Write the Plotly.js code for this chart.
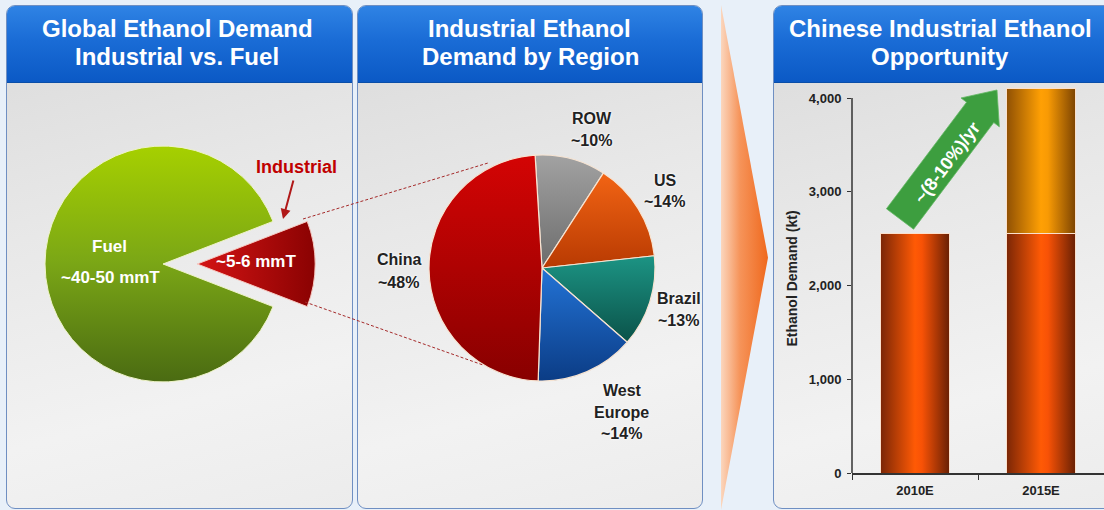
<!DOCTYPE html>
<html>
<head>
<meta charset="utf-8">
<script src="https://cdn.plot.ly/plotly-3.0.1.min.js"></script>
<style>
html,body{margin:0;padding:0;background:#e8f0f9;}
#wrap{position:relative;width:1104px;height:510px;overflow:hidden;background:#e8f0f9;}
.panel{position:absolute;top:5px;height:504px;border:1.5px solid #6f8fc2;border-radius:9px;
  background:linear-gradient(165deg,#dadada 0%,#e8e8e8 40%,#f2f2f2 75%,#ececec 100%);overflow:hidden;box-sizing:border-box;}
.head{position:absolute;left:0;top:0;right:0;height:76px;
  background:linear-gradient(to bottom,#2f83e4 0%,#1a6cd6 45%,#0b59c5 100%);border-bottom:1.5px solid #0a4ea8;}
#p1{left:6px;width:347px;}
#p2{left:357px;width:346px;}
#p3{left:773px;width:345px;}
#arrow{position:absolute;left:721px;top:5px;width:47px;height:505px;
  clip-path:polygon(0 0,100% 50%,0 100%);
  background:linear-gradient(to right,#fbd6bd 0%,#f6945a 40%,#ef691e 100%);}
#chart{position:absolute;left:0;top:0;width:1104px;height:510px;}
</style>
</head>
<body>
<div id="wrap">
  <div class="panel" id="p1"><div class="head"></div></div>
  <div class="panel" id="p2"><div class="head"></div></div>
  <div id="arrow"></div>
  <div class="panel" id="p3"><div class="head"></div></div>
  <div id="chart"></div>
</div>
<script>
// ---------- data ----------
const fuelLabels = ['Industrial', 'Fuel'];
const fuelValues = [6, 45];               // mmT (~5-6 vs ~40-50)
const regionLabels = ['ROW', 'US', 'Brazil', 'West Europe', 'China'];
const regionValues = [10, 14, 13, 14, 48]; // %
const barCategories = ['2010E', '2015E'];
const baseDemand = [2550, 2550];          // kt
const growthDemand = [null, 1550];        // kt
const yTickValues = [0, 1000, 2000, 3000, 4000];
const yTickLabels = ['0', '1,000', '2,000', '3,000', '4,000'];

// ---------- helpers ----------
const W = 1104, H = 510;
const FONT = 'Liberation Sans, Arial, Helvetica, sans-serif';
const px = x => x / W;
const py = y => 1 - y / H;
function ann(text, x, y, size, color, extra) {
  return Object.assign({
    text: text, x: px(x), y: py(y), xref: 'paper', yref: 'paper',
    xanchor: 'center', yanchor: 'middle', showarrow: false,
    font: {family: FONT, size: size, color: color, weight: 'bold'}
  }, extra || {});
}
const halo = '0 0 3px #ffffff, 0 0 2px #ffffff';
const lab = (t, x, y) => ann(t, x, y, 16, '#222',
  {font: {family: FONT, size: 16, color: '#222', weight: 'bold', shadow: halo}});

// ---------- traces ----------
const fuelTotal = fuelValues.reduce((a, b) => a + b, 0);
const pieFuel = {
  type: 'pie', labels: fuelLabels, values: fuelValues, sort: false,
  direction: 'clockwise', rotation: 90 - fuelValues[0] / fuelTotal * 180,
  pull: [0.29, 0], textinfo: 'none', hoverinfo: 'none',
  marker: {colors: ['#b30a0a', '#7aab10'], line: {color: ['#f6c8c0', '#eef3c8'], width: 1}},
  domain: {x: [px(163 - 152.2), px(163 + 152.2)], y: [py(264 + 152.2), py(264 - 152.2)]}
};
const pieRegion = {
  type: 'pie', labels: regionLabels, values: regionValues, sort: false,
  direction: 'clockwise', rotation: -3.5, textinfo: 'none', hoverinfo: 'none',
  marker: {colors: ['#8a8a8a', '#dd5412', '#167a6f', '#1b58b0', '#bb0707'],
           line: {color: '#f7e4d2', width: 1.2}},
  domain: {x: [px(542 - 113), px(542 + 113)], y: [py(268 + 113), py(268 - 113)]}
};
const barBase = {
  type: 'bar', x: barCategories, y: baseDemand, width: 0.55, hoverinfo: 'none',
  marker: {color: '#d9480c', line: {color: '#fbe0cc', width: 1}}
};
const barGrowth = {
  type: 'bar', x: barCategories, y: growthDemand, width: 0.55, hoverinfo: 'none',
  marker: {color: '#ee940c', line: {color: '#fbe0cc', width: 1}}
};

// ---------- green growth arrow geometry (decoration) ----------
const T = [900, 219], P = [997, 90];
const L = Math.hypot(P[0] - T[0], P[1] - T[1]);
const u = [(P[0] - T[0]) / L, (P[1] - T[1]) / L];
const n = [-u[1], u[0]];
const B = [P[0] - 28 * u[0], P[1] - 28 * u[1]];
const pt = (c, k) => [c[0] + k * n[0], c[1] + k * n[1]];
const arrowPts = [pt(T, -17), pt(T, 17), pt(B, 17), pt(B, 24), P, pt(B, -24), pt(B, -17)];
const arrowPath = 'M ' + arrowPts.map(p => px(p[0]).toFixed(5) + ',' + py(p[1]).toFixed(5)).join(' L ') + ' Z';

const dashLine = (x0, y0, x1, y1) => ({
  type: 'line', xref: 'paper', yref: 'paper', x0: px(x0), y0: py(y0), x1: px(x1), y1: py(y1),
  line: {color: '#a52a2a', width: 1, dash: '3px,2px'}
});

const layout = {
  width: W, height: H, margin: {l: 0, r: 0, t: 0, b: 0},
  paper_bgcolor: 'rgba(0,0,0,0)', plot_bgcolor: 'rgba(0,0,0,0)',
  showlegend: false, barmode: 'stack',
  font: {family: FONT, color: '#222'},
  xaxis: {
    domain: [px(852), 1], range: [-0.5, 1.5], type: 'category',
    showline: true, linecolor: '#333', linewidth: 1.5, mirror: false,
    ticks: 'outside', tickson: 'boundaries', ticklen: 5, tickcolor: '#333', tickwidth: 1,
    ticklabelstandoff: 5,
    tickfont: {family: FONT, size: 13, color: '#222', weight: 'bold'},
    showgrid: false, zeroline: false, fixedrange: true
  },
  yaxis: {
    domain: [py(473), py(84)], range: [0, 4150],
    tickvals: yTickValues, ticktext: yTickLabels,
    showline: false,
    ticks: 'outside', ticklen: 4, tickcolor: '#333', ticklabelstandoff: 3,
    tickfont: {family: FONT, size: 13, color: '#222', weight: 'bold'},
    showgrid: false, zeroline: false, fixedrange: true,
    title: {text: 'Ethanol Demand (kt)', standoff: 7,
            font: {family: FONT, size: 14, color: '#222', weight: 'bold'}}
  },
  shapes: [
    dashLine(303, 219, 488, 163),
    dashLine(305, 302, 483, 365),
    {type: 'path', xref: 'paper', yref: 'paper', path: arrowPath,
     fillcolor: '#3d9e3f', line: {color: '#63b863', width: 0.8}},
    // y axis line ending at the top tick (4,000)
    {type: 'line', xref: 'paper', yref: 'y', x0: px(852), x1: px(852),
     y0: 0, y1: yTickValues[yTickValues.length - 1], line: {color: '#333', width: 1.5}}
  ],
  annotations: [
    // headers
    ann('Global Ethanol Demand', 177, 28, 24, '#ffffff'),
    ann('Industrial vs. Fuel', 177, 56, 24, '#ffffff'),
    ann('Industrial Ethanol', 529, 28, 24, '#ffffff'),
    ann('Demand by Region', 530, 56, 24, '#ffffff'),
    ann('Chinese Industrial Ethanol', 940, 28, 24, '#ffffff'),
    ann('Opportunity', 940, 56, 24, '#ffffff'),
    // pie 1
    ann('Fuel', 109, 246, 17, '#ffffff'),
    ann('~40-50 mmT', 110, 277, 17, '#ffffff'),
    ann('~5-6 mmT', 256, 261, 17, '#ffffff'),
    {text: 'Industrial', x: px(283), y: py(219), xref: 'paper', yref: 'paper',
     ax: 14, ay: -52, showarrow: true, arrowhead: 2, arrowsize: 1, arrowwidth: 2,
     arrowcolor: '#b01818', standoff: 0, startstandoff: 2,
     font: {family: FONT, size: 18, color: '#c00000', weight: 'bold'}},
    // pie 2
    lab('ROW', 592, 118), lab('~10%', 591, 140),
    lab('US', 665, 180), lab('~14%', 664, 202),
    lab('China', 399, 259), lab('~48%', 398, 282),
    lab('Brazil', 679, 298), lab('~13%', 678, 320),
    lab('West', 622, 390), lab('Europe', 621, 412), lab('~14%', 621, 433),
    // growth arrow label
    ann('~(8-10%)/yr', 947, 163, 18, '#ffffff', {textangle: -53})
  ]
};

// gradient shading for marks (cosmetic, applied to the library-drawn shapes)
const NS = 'http://www.w3.org/2000/svg';
function addGrad(defs, id, vertical, stops) {
  const g = document.createElementNS(NS, 'linearGradient');
  g.setAttribute('id', id);
  g.setAttribute('x1', '0'); g.setAttribute('y1', '0');
  g.setAttribute('x2', vertical ? '0' : '1'); g.setAttribute('y2', vertical ? '1' : '0');
  stops.forEach(s => {
    const st = document.createElementNS(NS, 'stop');
    st.setAttribute('offset', s[0]); st.setAttribute('stop-color', s[1]);
    g.appendChild(st);
  });
  defs.appendChild(g);
}

Plotly.newPlot('chart', [pieFuel, pieRegion, barBase, barGrowth], layout,
  {displayModeBar: false, staticPlot: true}).then(gd => {
  const svg = gd.querySelector('svg.main-svg');
  let defs = svg.querySelector('defs');
  if (!defs) { defs = document.createElementNS(NS, 'defs'); svg.insertBefore(defs, svg.firstChild); }
  addGrad(defs, 'gInd', false, [[0, '#d41414'], [1, '#8a0202']]);
  addGrad(defs, 'gFuel', true, [[0, '#a6d000'], [0.5, '#7aa616'], [1, '#4a6b12']]);
  addGrad(defs, 'gRow', true, [[0, '#a2a2a2'], [1, '#6c6c6c']]);
  addGrad(defs, 'gUS', true, [[0, '#f26414'], [1, '#b83a02']]);
  addGrad(defs, 'gBr', true, [[0, '#1c9484'], [1, '#0b5249']]);
  addGrad(defs, 'gWE', true, [[0, '#2373d6'], [1, '#0b3c85']]);
  addGrad(defs, 'gCn', true, [[0, '#d40404'], [1, '#880000']]);
  addGrad(defs, 'gBase', false, [[0, '#7a2606'], [0.5, '#ff5a05'], [0.6, '#f85206'], [1, '#682004']]);
  addGrad(defs, 'gGrow', false, [[0, '#8f5004'], [0.5, '#ffa004'], [0.6, '#f89a04'], [1, '#7c4402']]);
  const pies = gd.querySelectorAll('.pielayer .trace');
  const pieGrads = [['gInd', 'gFuel'], ['gRow', 'gUS', 'gBr', 'gWE', 'gCn']];
  pies.forEach((tr, ti) => {
    tr.querySelectorAll('g.slice path.surface').forEach((p, i) => {
      if (pieGrads[ti] && pieGrads[ti][i]) p.style.fill = 'url(#' + pieGrads[ti][i] + ')';
    });
  });
  const bars = gd.querySelectorAll('.barlayer .trace');
  const barGrads = ['gBase', 'gGrow'];
  bars.forEach((tr, ti) => {
    tr.querySelectorAll('path').forEach(p => { p.style.fill = 'url(#' + barGrads[ti] + ')'; });
  });
});
</script>
</body>
</html>
